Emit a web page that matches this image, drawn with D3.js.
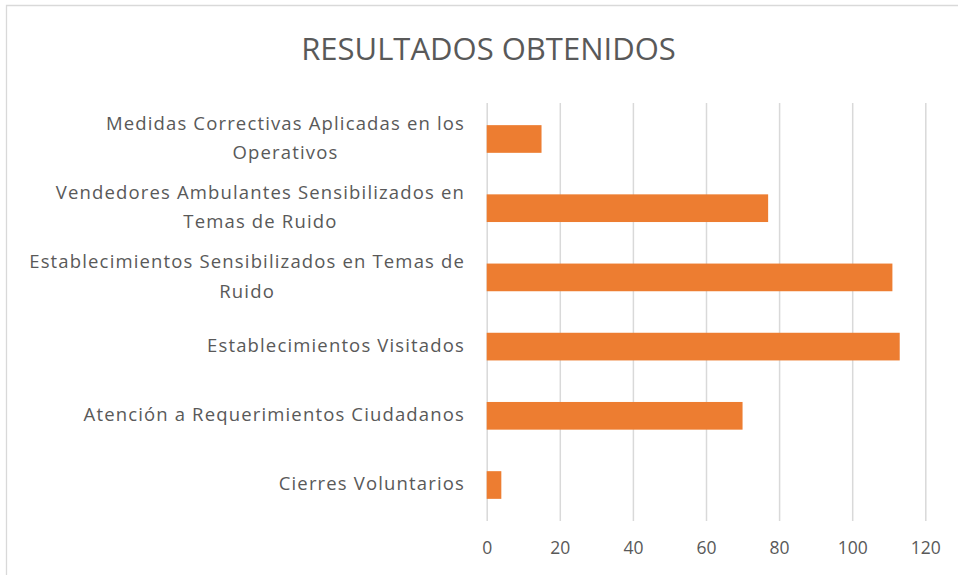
<!DOCTYPE html>
<html>
<head>
<meta charset="utf-8">
<script src="https://cdn.jsdelivr.net/npm/d3@7"></script>
<style>
  html, body { margin: 0; padding: 0; background: #fff; }
  svg { display: block; }
  text { font-family: "Open Sans", "Liberation Sans", sans-serif; fill: #595959; }
</style>
</head>
<body>
<svg id="chart" width="958" height="575"></svg>
<script>
// Categories, top to bottom, with the line breaks used for their labels
const categories = [
  "Medidas Correctivas Aplicadas en los Operativos",
  "Vendedores Ambulantes Sensibilizados en Temas de Ruido",
  "Establecimientos Sensibilizados en Temas de Ruido",
  "Establecimientos Visitados",
  "Atención a Requerimientos Ciudadanos",
  "Cierres Voluntarios"
];
const labelLines = [
  ["Medidas Correctivas Aplicadas en los", "Operativos"],
  ["Vendedores Ambulantes Sensibilizados en", "Temas de Ruido"],
  ["Establecimientos Sensibilizados en Temas de", "Ruido"],
  ["Establecimientos Visitados"],
  ["Atención a Requerimientos Ciudadanos"],
  ["Cierres Voluntarios"]
];
const values = [15, 77, 111, 113, 70, 4];
const xTicks = [0, 20, 40, 60, 80, 100, 120];
const title = "RESULTADOS OBTENIDOS";

const svg = d3.select("#chart");
const W = 958, H = 575;
const plot = { left: 486.7, right: 925.3, top: 103, bottom: 521 };

// Chart area frame (left and top edges visible)
svg.append("path")
  .attr("d", `M6.5,${H + 2}V5.5H${W + 2}`)
  .attr("fill", "none")
  .attr("stroke", "#d9d9d9")
  .attr("stroke-width", 1.3);

const x = d3.scaleLinear().domain([0, 120]).range([plot.left, plot.right]);
const y = d3.scaleBand().domain(categories)
  .range([plot.top, plot.bottom])
  .paddingInner(0.6).paddingOuter(0.32);

// Vertical gridlines
const grid = svg.append("g")
  .attr("transform", `translate(0,${plot.bottom})`)
  .call(d3.axisBottom(x).tickValues(xTicks).tickSize(-(plot.bottom - plot.top)).tickFormat(""));
grid.select(".domain").remove();
grid.selectAll(".tick line").attr("stroke", "#d9d9d9").attr("stroke-width", 1.5);

// Value axis labels
const xa = svg.append("g")
  .attr("transform", `translate(0,${plot.bottom})`)
  .call(d3.axisBottom(x).tickValues(xTicks).tickSize(0).tickPadding(21).tickFormat(d3.format("d")));
xa.select(".domain").remove();
xa.selectAll("text")
  .style("font-size", "17.5px")
  .attr("fill", "#595959");

// Bars
svg.append("g").selectAll("rect")
  .data(categories)
  .join("rect")
  .attr("x", x(0))
  .attr("y", d => y(d))
  .attr("width", (d, i) => x(values[i]) - x(0))
  .attr("height", y.bandwidth())
  .attr("fill", "#ED7D31");

// Category labels: wrapped lines centred on each other, block right-aligned
const labelRight = 465;
const lineGap = 29.5;
const lab = svg.append("g")
  .style("font-size", "18.5px")
  .style("letter-spacing", "1.15px");
categories.forEach((c, i) => {
  const lines = labelLines[i];
  const cy = y(c) + y.bandwidth() / 2 - 1;
  const g = lab.append("g");
  const texts = lines.map((ln, k) =>
    g.append("text")
      .attr("y", cy + (k - (lines.length - 1) / 2) * lineGap)
      .attr("dy", "0.35em")
      .attr("text-anchor", "middle")
      .text(ln)
  );
  const maxW = d3.max(texts, t => t.node().getComputedTextLength());
  texts.forEach(t => t.attr("x", labelRight - maxW / 2));
});

// Title
svg.append("text")
  .attr("x", 488.5)
  .attr("y", 60)
  .attr("text-anchor", "middle")
  .style("font-size", "31px")
  .text(title);
</script>
</body>
</html>
